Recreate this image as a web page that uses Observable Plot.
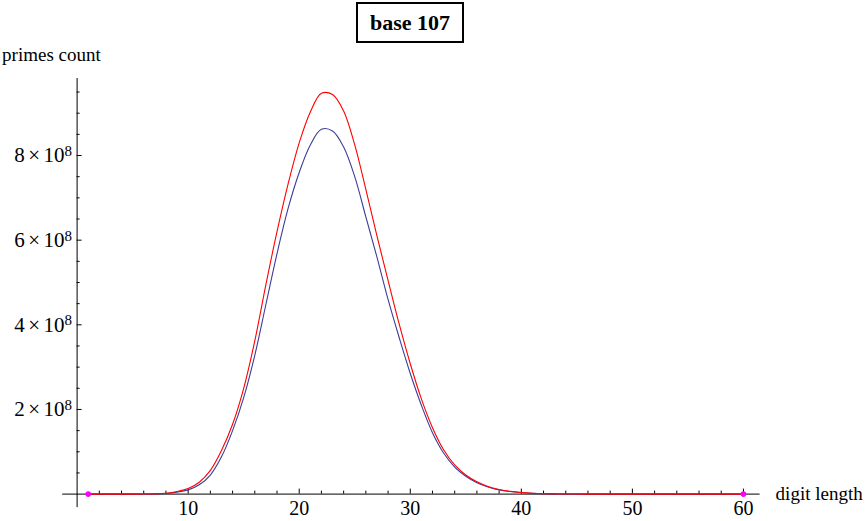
<!DOCTYPE html>
<html><head><meta charset="utf-8">
<script src="https://cdn.jsdelivr.net/npm/d3@7"></script>
<script src="https://cdn.jsdelivr.net/npm/@observablehq/plot@0.6"></script>
<style>
html,body{margin:0;padding:0;background:#fff;}
#wrap{position:relative;width:867px;height:521px;overflow:hidden;}
#title{position:absolute;left:356px;top:2px;width:104px;height:37px;border:2px solid #000;font:bold 22px "Liberation Serif","Times New Roman",serif;text-align:center;line-height:37px;background:#fff;color:#000;}
</style></head><body>
<div id="wrap"><div id="chart"></div><div id="title">base 107</div></div>
<script>
const digitLength = [1,2,3,4,5,6,7,8,9,10,11,12,13,14,15,16,17,18,19,20,21,22,23,24,25,26,27,28,29,30,31,32,33,34,35,36,37,38,39,40,41,42,43,44,45,46,47,48,49,50,51,52,53,54,55,56,57,58,59,60];
const redCount = [0,0,0,0,0.0001e8,0.001e8,0.005e8,0.02e8,0.06e8,0.13e8,0.28e8,0.56e8,1.03e8,1.65e8,2.5e8,3.62e8,4.95e8,6.2e8,7.33e8,8.3e8,9.03e8,9.47e8,9.44e8,9.05e8,8.25e8,7.2e8,6.1e8,5.05e8,4.02e8,3.08e8,2.25e8,1.57e8,1.05e8,0.69e8,0.45e8,0.29e8,0.18e8,0.11e8,0.065e8,0.037e8,0.02e8,0.01e8,0.005e8,0.002e8,0.001e8,0,0,0,0,0,0,0,0,0,0,0,0,0,0,0];
const blueCount = [0,0,0,0,0,0.001e8,0.004e8,0.015e8,0.045e8,0.1e8,0.22e8,0.45e8,0.88e8,1.5e8,2.28e8,3.28e8,4.48e8,5.68e8,6.75e8,7.6e8,8.25e8,8.62e8,8.58e8,8.2e8,7.5e8,6.55e8,5.6e8,4.6e8,3.7e8,2.85e8,2.1e8,1.45e8,0.97e8,0.64e8,0.42e8,0.27e8,0.17e8,0.1e8,0.06e8,0.033e8,0.017e8,0.008e8,0.004e8,0.002e8,0.001e8,0,0,0,0,0,0,0,0,0,0,0,0,0,0,0];
const markerLength = [1, 60];
const markerCount = [0, 0];
const xMajorTicks = [10,20,30,40,50,60];
const xMinorTicks = [2,4,6,8,12,14,16,18,22,24,26,28,32,34,36,38,42,44,46,48,52,54,56,58];
const yMajorTicks = [2e8,4e8,6e8,8e8];
const yMinorTicks = [0.5e8,1e8,1.5e8,2.5e8,3e8,3.5e8,4.5e8,5e8,5.5e8,6.5e8,7e8,7.5e8,8.5e8,9e8,9.5e8];
const yLabel = "primes count";
const xLabel = "digit length";

const rows = digitLength.map((d, i) => ({len: d, red: redCount[i], blue: blueCount[i]}));
const markers = markerLength.map((d, i) => ({len: d, count: markerCount[i]}));

const chart = Plot.plot({
  width: 867, height: 521,
  marginLeft: 76.6, marginRight: 107.4, marginTop: 78, marginBottom: 27.4,
  x: {domain: [0, 61.5]},
  y: {domain: [0, 9.82e8]},
  style: {fontFamily: '"Liberation Serif","Times New Roman",serif', fontSize: "19px", background: "white", color: "black", overflow: "visible"},
  marks: [
    Plot.ruleY([0], {x1: -1.3, x2: 61.5, stroke: "black", strokeWidth: 1}),
    Plot.ruleX([0], {y1: -0.32e8, y2: 9.82e8, stroke: "black", strokeWidth: 1}),
    Plot.axisX(xMajorTicks, {tickSize: -5, tickPadding: 12, tickFormat: d => String(d), label: null, fontSize: 20}),
    Plot.axisX(xMinorTicks, {tickSize: -3, tickFormat: () => "", label: null}),
    Plot.axisY(yMajorTicks, {tickSize: -5, tickPadding: 10, tickFormat: d => `${d / 1e8}`, label: null, fontSize: 21}),
    Plot.axisY(yMinorTicks, {tickSize: -3, tickFormat: () => "", label: null}),
    Plot.line(rows, {x: "len", y: "blue", stroke: "#3d3d99", strokeWidth: 1.1, curve: "catmull-rom"}),
    Plot.line(rows, {x: "len", y: "red", stroke: "#ff0000", strokeWidth: 1.1, curve: "catmull-rom"}),
    Plot.dot(markers, {x: "len", y: "count", r: 2.8, fill: "#ff00ff"}),
    Plot.text([yLabel], {text: d => d, frameAnchor: "top-left", dx: -75, dy: -18, textAnchor: "start", lineAnchor: "bottom"}),
    Plot.text([xLabel], {text: d => d, frameAnchor: "bottom-right", dx: 15.5, textAnchor: "start", lineAnchor: "middle"})
  ]
});

d3.select(chart).selectAll('g[aria-label="y-axis tick label"] text').each(function () {
  const t = this.textContent;
  if (!t) return;
  const s = d3.select(this);
  s.text(null);
  s.append("tspan").text(t);
  s.append("tspan").attr("dx", "3.5").text("×");
  s.append("tspan").attr("dx", "3.5").text("10");
  s.append("tspan").attr("dy", "-0.42em").attr("font-size", "15px").text("8");
});

document.getElementById("chart").appendChild(chart);
</script>
</body></html>
